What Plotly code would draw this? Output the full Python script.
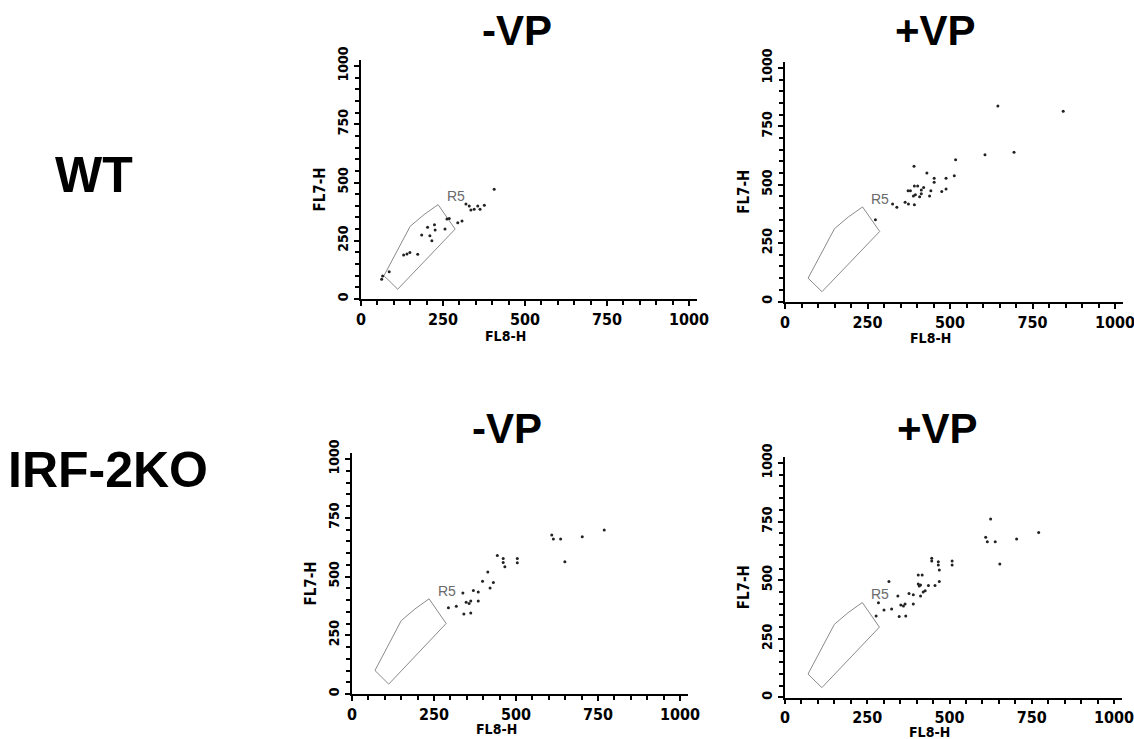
import plotly.graph_objects as go

# ---------------- data ----------------
row_labels = ["WT", "IRF-2KO"]
col_labels = ["-VP", "+VP"]
x_title = "FL8-H"
y_title = "FL7-H"
tick_values = [0, 250, 500, 750, 1000]
tick_text = ["0", "250", "500", "750", "1000"]

gate_name = "R5"
gate_x = [70, 150, 192, 235, 287, 112, 70]
gate_y = [100, 312, 362, 405, 300, 42, 100]
gate_label_x = 255
gate_label_y = 440

wt_minus_x = [406, 320, 330, 335, 345, 356, 363, 376, 262, 269, 295, 308,
              203, 224, 185, 210, 226, 256, 216, 130, 140, 149, 173, 86, 66, 63]
wt_minus_y = [471, 408, 399, 382, 385, 399, 385, 402, 343, 346, 327, 335,
              308, 319, 275, 272, 296, 300, 250, 189, 193, 200, 192, 117, 99, 85]

wt_plus_x = [645, 843, 694, 606, 517, 391, 430, 513, 452, 488, 452, 392, 402,
             420, 380, 373, 413, 395, 389, 413, 408, 442, 438, 475, 488, 364,
             374, 392, 326, 339, 274]
wt_plus_y = [837, 815, 639, 628, 607, 579, 550, 539, 528, 528, 511, 495, 495,
             488, 474, 474, 478, 457, 452, 461, 449, 474, 452, 471, 482, 425,
             418, 414, 418, 404, 350]

ko_minus_x = [769, 702, 609, 614, 636, 649, 443, 461, 461, 466, 504, 504, 414,
              398, 431, 421, 370, 385, 338, 348, 357, 362, 385, 318, 294, 341, 362]
ko_minus_y = [698, 669, 677, 660, 660, 563, 589, 577, 560, 542, 577, 559, 519,
              480, 474, 451, 440, 434, 430, 390, 385, 396, 396, 373, 367, 340, 345]

ko_plus_x = [625, 771, 704, 610, 615, 639, 653, 446, 446, 466, 466, 469, 508,
             508, 405, 417, 405, 412, 408, 436, 456, 469, 426, 420, 412, 390,
             377, 390, 343, 316, 365, 360, 352, 284, 324, 301, 347, 367, 277]
ko_plus_y = [761, 704, 676, 683, 664, 664, 569, 594, 582, 579, 565, 544, 582,
             565, 522, 522, 484, 480, 476, 478, 478, 495, 455, 450, 433, 438,
             444, 399, 433, 495, 399, 390, 394, 404, 377, 373, 345, 348, 348]

panels_data = [
    (wt_minus_x, wt_minus_y),
    (wt_plus_x, wt_plus_y),
    (ko_minus_x, ko_minus_y),
    (ko_plus_x, ko_plus_y),
]

# ---------------- layout geometry (pixels) ----------------
W, H = 1134, 739
AX_MAX = 1025
# (x0 px, px per unit x, y0 px, px per unit y, x-title offset px, x tick length)
geom = [
    (361, 0.328, 299.0, 0.233, 37, 5),
    (785, 0.330, 301.5, 0.2335, 36, 5),
    (352, 0.328, 694.0, 0.235, 35, 5),
    (785, 0.329, 697.5, 0.2345, 34.5, 4),
]

fig = go.Figure()
layout_axes = {}
annotations = []

cond = "DejaVu Sans Condensed, DejaVu Sans"
tick_font_x = dict(family=cond, size=16, color="black", weight="bold")
tick_font_y = dict(family=cond, size=14, color="black", weight="bold")

for i, ((px, py), (x0, sx, y0, sy, toff, xtl)) in enumerate(zip(panels_data, geom)):
    n = i + 1
    xa = "x" if n == 1 else f"x{n}"
    ya = "y" if n == 1 else f"y{n}"
    xkey = "xaxis" if n == 1 else f"xaxis{n}"
    ykey = "yaxis" if n == 1 else f"yaxis{n}"

    x_left = x0 / W
    x_right = min((x0 + AX_MAX * sx) / W, 1.0)
    y_bot = 1 - y0 / H
    y_top = 1 - (y0 - AX_MAX * sy) / H

    common = dict(
        range=[0, AX_MAX], showgrid=False, zeroline=False, automargin=False,
        showline=True, linecolor="black", linewidth=2,
        ticks="outside", ticklen=5, tickwidth=1.5, tickcolor="black",
        tickvals=tick_values, ticktext=tick_text,
        ticklabeloverflow="allow",
        minor=dict(dtick=50, tick0=0, ticks="outside", ticklen=4,
                   tickwidth=1.5, tickcolor="black", showgrid=False),
        fixedrange=True,
    )
    layout_axes[xkey] = dict(common, domain=[x_left, x_right], anchor=ya,
                             tickfont=tick_font_x, ticklen=xtl)
    layout_axes[ykey] = dict(common, domain=[y_bot, y_top], anchor=xa,
                             tickangle=-90, tickfont=tick_font_y)

    # gate polygon
    fig.add_trace(go.Scatter(
        x=gate_x, y=gate_y, mode="lines", xaxis=xa, yaxis=ya,
        line=dict(color="#8a8a8a", width=1), hoverinfo="skip", showlegend=False))
    # events
    fig.add_trace(go.Scatter(
        x=px, y=py, mode="markers", xaxis=xa, yaxis=ya,
        marker=dict(size=3, color="#222222"), showlegend=False))

    annotations.append(dict(
        x=gate_label_x, y=gate_label_y, xref=xa, yref=ya, text=gate_name,
        showarrow=False, xanchor="left", yanchor="middle",
        font=dict(family="Liberation Sans, Arial", size=14, color="#6a6a6a")))

    # axis titles
    annotations.append(dict(
        x=(x0 + 440 * sx) / W, y=1 - (y0 + toff) / H, xref="paper", yref="paper",
        text=x_title, showarrow=False, xanchor="center", yanchor="middle",
        font=dict(family=cond, size=14, color="black", weight="bold")))
    annotations.append(dict(
        x=(x0 - 41) / W, y=1 - (y0 - 470 * sy) / H, xref="paper", yref="paper",
        text=y_title, showarrow=False, textangle=-90, xanchor="center", yanchor="middle",
        font=dict(family=cond, size=15, color="black", weight="bold")))

# column titles
title_pos = [(517, 30), (935, 30), (507, 428), (937, 428)]
for j, (tx, ty) in enumerate(title_pos):
    annotations.append(dict(
        x=tx / W, y=1 - ty / H, xref="paper", yref="paper",
        text=col_labels[j % 2], showarrow=False, xanchor="center", yanchor="middle",
        font=dict(family="Liberation Sans, Arial", size=42, color="black", weight="bold")))

# row labels
for (tx, ty), lab in zip([(94, 175), (108, 470)], row_labels):
    annotations.append(dict(
        x=tx / W, y=1 - ty / H, xref="paper", yref="paper",
        text=lab, showarrow=False, xanchor="center", yanchor="middle",
        font=dict(family="Liberation Sans, Arial", size=50, color="black", weight="bold")))

fig.update_layout(
    width=W, height=H,
    margin=dict(l=0, r=0, t=0, b=0),
    paper_bgcolor="white", plot_bgcolor="white",
    showlegend=False,
    annotations=annotations,
    **layout_axes,
)

fig.write_html(
    "out.html",
    config={"displayModeBar": False},
    post_script="document.body.style.margin='0';document.body.style.overflow='hidden';",
)
